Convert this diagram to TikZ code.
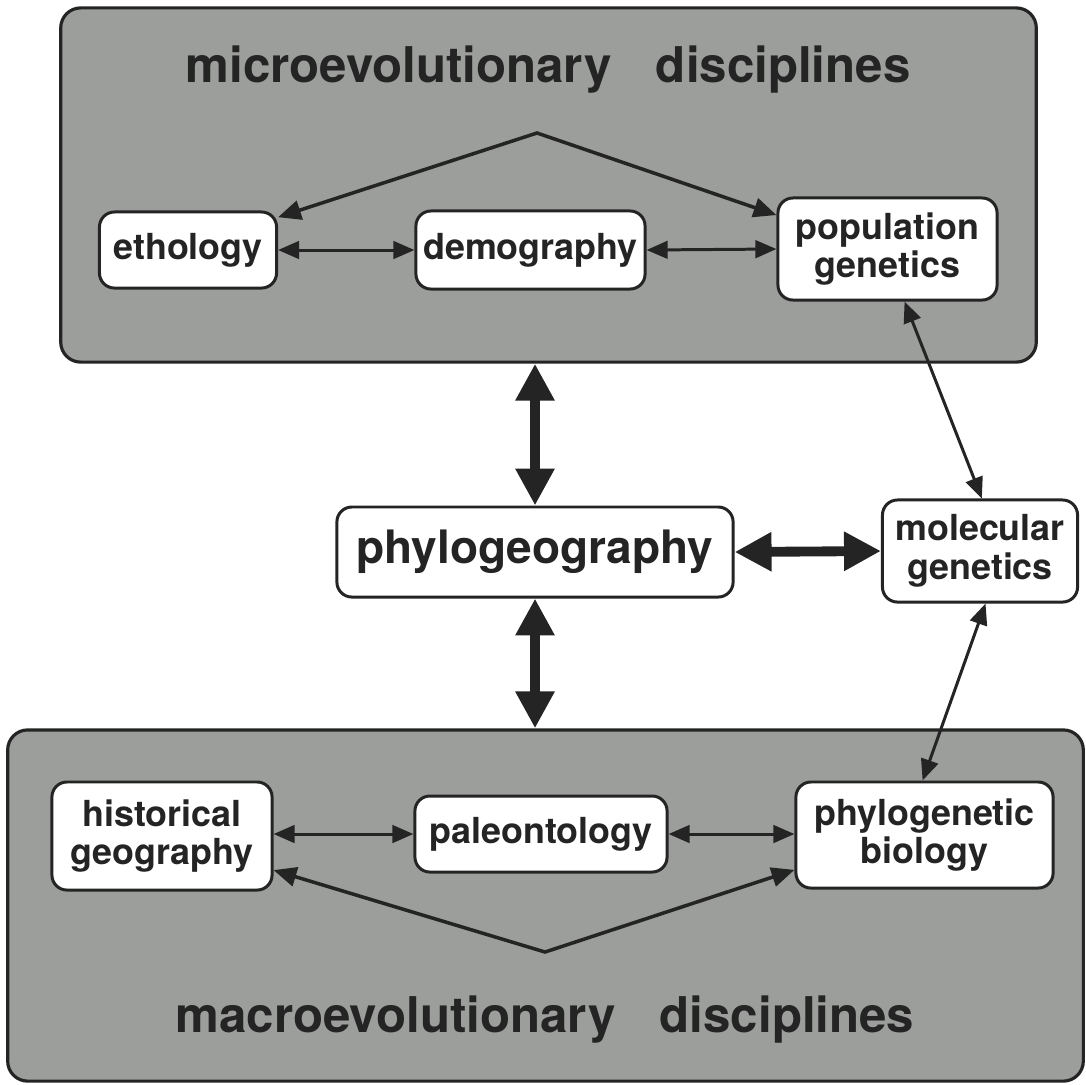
\documentclass[tikz,border=0pt]{standalone}
\usepackage{fontspec}
\setmainfont{TeX Gyre Heros}
\usetikzlibrary{arrows.meta}
\definecolor{panelgray}{RGB}{156,158,155}
\definecolor{ink}{RGB}{36,36,36}
\tikzset{
  panel/.style={draw=ink, line width=0.9pt, fill=panelgray, rounded corners=2mm, inner sep=0pt},
  field/.style={draw=ink, line width=0.85pt, fill=white, rounded corners=1.5mm, inner sep=0pt,
    align=center, text=ink, font=\fontsize{10.2}{11}\selectfont\bfseries},
  paneltitle/.style={text=ink, font=\fontsize{14}{16}\selectfont\bfseries},
  link/.style={draw=ink, line width=0.85pt, {Triangle[length=6pt,width=5pt]}-{Triangle[length=6pt,width=5pt]}},
  tent/.style={draw=ink, line width=1pt, {Triangle[length=6.5pt,width=5.5pt]}-{Triangle[length=6.5pt,width=5.5pt]}},
  biglink/.style={draw=ink, line width=2.8pt, {Triangle[length=10.5pt,width=10.5pt]}-{Triangle[length=10.5pt,width=10.5pt]}},
}
\begin{document}
\begin{tikzpicture}[x=0.01cm,y=-0.01cm]
\useasboundingbox (0,0) rectangle (1086,1084);

% the two discipline panels
\node[panel, minimum width=9.75cm, minimum height=3.54cm] (micro) at (548.5,185) {};
\node[panel, minimum width=10.75cm, minimum height=3.51cm] (macro) at (545.5,905.5) {};

\node[paneltitle] (microtitle) at (548,70) {microevolutionary\hspace{0.9em}disciplines};
\node[paneltitle] (macrotitle) at (545,1020) {macroevolutionary\hspace{0.9em}disciplines};

% microevolutionary fields
\node[field, minimum width=1.77cm, minimum height=0.76cm] (eth) at (188,250) {ethology};
\node[field, minimum width=2.29cm, minimum height=0.78cm] (demo) at (530.5,250) {demography};
\node[field, minimum width=2.19cm, minimum height=1.02cm] (pop) at (887.5,249) {population\\genetics};

% central fields
\node[field, minimum width=3.96cm, minimum height=0.9cm, font=\fontsize{13.1}{15}\selectfont\bfseries] (phylogeo) at (535,552) {phylogeography};
\node[field, minimum width=1.95cm, minimum height=1.02cm] (mol) at (980,551) {molecular\\genetics};

% macroevolutionary fields
\node[field, minimum width=2.2cm, minimum height=1.08cm] (hist) at (162,836) {historical\\geography};
\node[field, minimum width=2.52cm, minimum height=0.76cm] (paleo) at (541,834) {paleontology};
\node[field, minimum width=2.57cm, minimum height=1.06cm] (phylo) at (924.5,835) {phylogenetic\\biology};

% apex points of the branching arrows
\coordinate (topapex) at (537,133);
\coordinate (botapex) at (545,952);

% links inside the microevolutionary panel
\draw[link] (eth.east) -- (demo.west);
\draw[link] (demo.east) -- (pop.west);
\draw[tent] (eth.20) -- (topapex) -- (pop.163);

% links inside the macroevolutionary panel
\draw[link] (hist.east |- paleo.west) -- (paleo.west);
\draw[link] (paleo.east) -- (phylo.west |- paleo.east);
\draw[tent] (hist.-17) -- (botapex) -- (phylo.195);

% links through the centre
\draw[biglink] (phylogeo.north) -- (phylogeo.north |- micro.south);
\draw[biglink] (phylogeo.south) -- (phylogeo.south |- macro.north);
\draw[biglink] (phylogeo.east) -- (mol.west);
\draw[link] (pop.-72) -- (mol.88);
\draw[link] (mol.-84) -- (phylo.92);
\end{tikzpicture}
\end{document}
